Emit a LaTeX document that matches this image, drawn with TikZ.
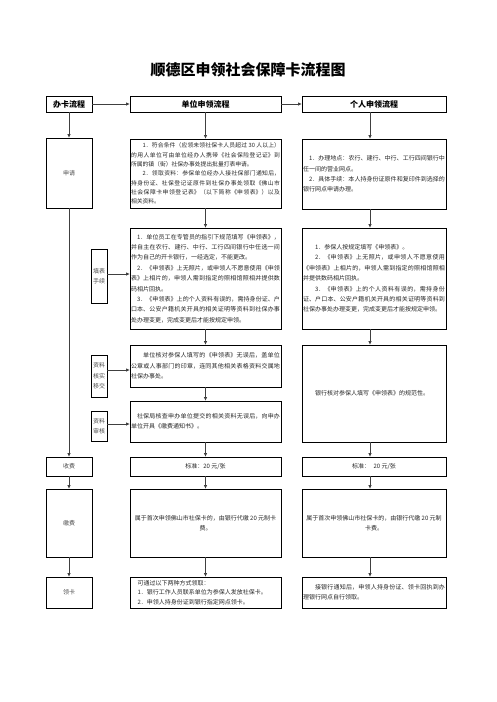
\documentclass[tikz,border=0pt]{standalone}
\usepackage{fontspec}
\setmainfont{Noto Sans CJK SC}
\usetikzlibrary{arrows.meta, positioning, calc}
\XeTeXlinebreaklocale "zh"
\XeTeXlinebreakskip = 0pt plus 1pt

\begin{document}
\begin{tikzpicture}[x=1pt, y=-1pt, >={Latex[length=4pt,width=3.5pt]},
    box/.style={draw, line width=0.8pt, inner sep=0pt, outer sep=0pt},
    head/.style={box, minimum height=16pt, font=\fontsize{8}{9}\selectfont\bfseries},
    body/.style={box, inner xsep=1pt, align=justify, text=black!85,
        font=\fontsize{6}{10.4}\selectfont},
    mid/.style={body, text width=149pt},
    rgt/.style={body, text width=142pt},
    ctr/.style={box, align=center, text=black!85, font=\fontsize{6}{10.4}\selectfont},
    lft/.style={box, minimum width=46pt, text=black!70, font=\fontsize{6}{10}\selectfont},
    side/.style={box, minimum width=16pt, align=center, text=black!70,
        font=\fontsize{6}{10.5}\selectfont},
    link/.style={->, line width=0.8pt, black!75}]
    \useasboundingbox (0,0) rectangle (496,702);

    \node (T) at (248,70) {\fontsize{15}{16}\selectfont\bfseries 顺德区申领社会保障卡流程图};

    \node (H1) [head, minimum width=46pt] at (69,104) {办卡流程};
    \node (H2) [head, minimum width=151pt] at (205.5,104) {单位申领流程};
    \node (H3) [head, minimum width=144pt] at (374,104) {个人申领流程};
    \coordinate (RX) at (370,0);

    \node (L1) [lft, minimum height=70pt] at (69,173) {申请};
    \node (M1) [mid, minimum height=69pt, font=\fontsize{5.8}{9.3}\selectfont] at (205.5,173.5) {\hspace*{2em}1．符合条件（应领未领社保卡人员超过 30 人以上）\linebreak 的用人单位可由单位经办人携带《社会保险登记证》到\linebreak 所属的镇（街）社保办事处提出批量打表申请。\par
        \hspace*{2em}2．领取资料：参保单位经办人接社保部门通知后，\linebreak 持身份证、社保登记证原件到社保办事处领取《佛山市\linebreak 社会保障卡申领登记表》（以下简称《申领表》）以及\linebreak 相关资料。};
    \node (R1) [rgt, minimum height=70pt] at (374,174) {\hspace*{1em}1．办理地点：农行、建行、中行、工行四间银行中任一间的营业网点。\par
        \hspace*{1em}2．具体手续：本人持身份证原件和复印件到选择的银行网点申请办理。};

    \node (M2) [mid, minimum height=101pt] at (205.5,278.5) {\hspace*{1em}1．单位员工在专管员的指引下规范填写《申领表》，并自主在农行、建行、中行、工行四间银行中任选一间作为自己的开卡银行，一经选定，不能更改。\par
        \hspace*{1em}2．《申领表》上无照片，或申领人不愿意使用《申领表》上相片的，申领人需到指定的照相馆照相并提供数码相片回执。\par
        \hspace*{1em}3．《申领表》上的个人资料有误的，需持身份证、户口本、公安户籍机关开具的相关证明等资料到社保办事处办理变更，完成变更后才能按规定申领。};
    \node (R2) [rgt, minimum height=101pt] at (374,278.5) {\hspace*{2em}1．参保人按规定填写《申领表》。\par
        \hspace*{2em}2．《申领表》上无照片，或申领人不愿意使用《申领表》上相片的，申领人需到指定的照相馆照相并提供数码相片回执。\par
        \hspace*{2em}3．《申领表》上的个人资料有误的，需持身份证、户口本、公安户籍机关开具的相关证明等资料到社保办事处办理变更，完成变更后才能按规定申领。};

    \node (M3) [mid, minimum height=42pt] at (205.5,366) {\hspace*{2em}单位核对参保人填写的《申领表》无误后，盖单位公章或人事部门的印章，连同其他相关表格资料交属地社保办事处。};
    \node (M4) [mid, minimum height=41pt] at (205.5,421.5) {\hspace*{1em}社保局核查申办单位提交的相关资料无误后，向申办单位开具《缴费通知书》。};
    \node (R3) [rgt, minimum height=97pt] at (374,393.5) {\hspace*{2em}银行核对参保人填写《申领表》的规范性。};

    \node (S1) [side, minimum height=54pt] at (99,276) {填表\\手续};
    \node (S2) [side, minimum height=42pt] at (99,376) {资料\\核实\\移交};
    \node (S3) [side, minimum height=30pt] at (99,426) {资料\\审核};

    \node (F1) [lft, minimum height=19pt] at (69,466.5) {收费};
    \node (F2) [ctr, minimum width=151pt, minimum height=19pt] at (205.5,466.5) {标准：20 元/张};
    \node (F3) [ctr, minimum width=144pt, minimum height=19pt] at (374,466.5) {标准：\hspace{0.6em}20 元/张};

    \node (P1) [lft, minimum height=68pt] at (69,523) {缴费};
    \node (P2) [ctr, minimum width=151pt, minimum height=68pt] at (205.5,523) {属于首次申领佛山市社保卡的，由银行代缴 20 元制卡\\费。};
    \node (P3) [ctr, minimum width=144pt, minimum height=68pt] at (374,523) {属于首次申领佛山市社保卡的，由银行代缴 20 元制\\卡费。};

    \node (K1) [lft, minimum height=31pt] at (69,592.5) {领卡};
    \node (K2) [body, text width=136pt, inner xsep=7.5pt, align=left, minimum height=31pt,
        font=\fontsize{6}{9.5}\selectfont] at (205.5,592.5) {可通过以下两种方式领取：\\1．银行工作人员联系单位为参保人发放社保卡。\\2．申领人持身份证到银行指定网点领卡。};
    \node (K3) [rgt, minimum height=31pt] at (374,592.5) {\hspace*{2em}接银行通知后，申领人持身份证、领卡回执到办理银行网点自行领取。};

    \draw[link] (H1) -- (H2);
    \draw[link] (H2) -- (H3);
    \draw[link] (H1) -- (L1);
    \draw[link] (L1) -- (F1);
    \draw[link] (F1) -- (P1);
    \draw[link] (P1) -- (K1);
    \draw[link] (H2) -- (M1);
    \draw[link] (M1) -- (M2);
    \draw[link] (M2) -- (M3);
    \draw[link] (M3) -- (M4);
    \draw[link] (M4) -- (F2);
    \draw[link] (F2) -- (P2);
    \draw[link] (P2) -- (K2);
    \draw[link] (H3.south -| RX) -- (R1.north -| RX);
    \draw[link] (R1.south -| RX) -- (R2.north -| RX);
    \draw[link] (R2.south -| RX) -- (R3.north -| RX);
    \draw[link] (R3.south -| RX) -- (F3.north -| RX);
    \draw[link] (F3.south -| RX) -- (P3.north -| RX);
    \draw[link] (P3.south -| RX) -- (K3.north -| RX);
    \draw[link] ($(S1.east)+(0,-2)$) -- ($(S1.east -| M2.west)+(0,-2)$);
    \draw[link] ($(S2.east)+(0,-6)$) -- ($(S2.east -| M3.west)+(0,-6)$);
    \draw[link] ($(S3.east)+(0,-2)$) -- ($(S3.east -| M4.west)+(0,-2)$);
\end{tikzpicture}
\end{document}
